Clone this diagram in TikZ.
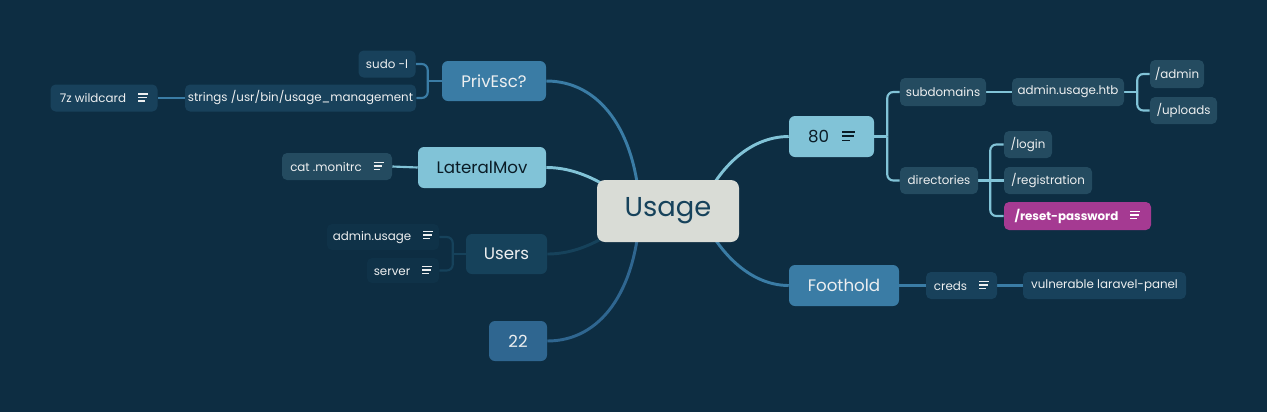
\documentclass[tikz,border=0pt]{standalone}
\usepackage{fontspec}
\setmainfont{Poppins}
\usetikzlibrary{backgrounds,calc}
\definecolor{bg}{HTML}{0D2D42}
\definecolor{cUsage}{HTML}{D9DCD6}
\definecolor{tUsage}{HTML}{16425B}
\definecolor{cA}{HTML}{3A7CA5}
\definecolor{cB}{HTML}{81C3D7}
\definecolor{cC}{HTML}{16425B}
\definecolor{cD}{HTML}{2F6690}
\definecolor{chA}{HTML}{18415B}
\definecolor{chB}{HTML}{244B60}
\definecolor{chC}{HTML}{0F3248}
\definecolor{cMag}{HTML}{A53A92}
\definecolor{tLight}{HTML}{EDEFF0}
\definecolor{tDark}{HTML}{0A1C26}
\newcommand\noteicon{\hspace{9pt}\raisebox{0.8pt}{\vbox{\hrule width 7.5pt height 1pt \vskip 1.6pt \hrule width 6.5pt height 1pt \vskip 1.6pt \hrule width 5pt height 1pt}}}
\newcommand\bignoteicon{\hspace{10pt}\raisebox{1pt}{\vbox{\hrule width 9.5pt height 1.2pt \vskip 2pt \hrule width 9pt height 1.2pt \vskip 2pt \hrule width 6pt height 1.2pt}}}
\begin{document}
\begin{tikzpicture}[x=0.75pt,y=-0.75pt,
  bx/.style 2 args={minimum width=#1*0.75pt, minimum height=#2*0.75pt},
  topic/.style={rounded corners=4.5pt, inner sep=0pt, font=\fontsize{12.5}{14}\selectfont, text=tLight},
  sub/.style={rounded corners=3.8pt, inner sep=0pt, font=\fontsize{8.9}{11}\selectfont, text=tLight},
  mainline/.style={line width=2.2pt},
  cl/.style={line width=1.6pt},
  rc/.style={cl, rounded corners=4.5pt}]
\useasboundingbox (0,0) rectangle (1267,412);

% central
\node[rounded corners=6pt, inner sep=0pt, fill=cUsage, text=tUsage, font=\fontsize{20.5}{24}\selectfont, bx={142}{62}] (usage) at (668,211) {Usage};
\coordinate (hubL) at (640,211);
\coordinate (hubR) at (700,211);

% left topics
\node[topic, fill=cA, bx={104}{40}] (privesc) at (494,81) {PrivEsc?};
\node[sub, fill=chA, bx={57}{27}] (sudo) at (387,64) {sudo -l};
\node[sub, fill=chA, bx={231}{27}] (strings) at (300.5,98) {strings /usr/bin/usage\_management};
\node[sub, fill=chA, bx={107}{27}] (wild) at (104,98) {7z wildcard\noteicon};

\node[topic, fill=cB, text=tDark, bx={128}{41}] (lateral) at (482,167.5) {LateralMov};
\node[sub, fill=chB, bx={110}{27}] (monit) at (337,166.5) {cat .monitrc\noteicon};

\node[topic, fill=cC, bx={81}{40}] (users) at (506.5,254) {Users};
\node[sub, fill=chC, bx={112}{26}] (adminu) at (383,237) {admin.usage\noteicon};
\node[sub, fill=chC, bx={72}{25}] (server) at (403,270.5) {server\noteicon};

\node[topic, fill=cD, bx={58}{40}] (p22) at (518,341) {22};

% right topics
\node[topic, fill=cB, text=tDark, bx={85}{41}] (p80) at (831.5,136.5) {80\bignoteicon};
\node[sub, fill=chB, bx={86}{28}] (subd) at (943,92) {subdomains};
\node[sub, fill=chB, bx={112}{28}] (ahtb) at (1068,92) {admin.usage.htb};
\node[sub, fill=chB, bx={54}{28}] (admin) at (1177,74) {/admin};
\node[sub, fill=chB, bx={67}{27}] (uploads) at (1183.5,110.5) {/uploads};
\node[sub, fill=chB, bx={78}{27}] (dirs) at (939,180.5) {directories};
\node[sub, fill=chB, bx={48}{27}] (login) at (1028,144.5) {/login};
\node[sub, fill=chB, bx={88}{27}] (reg) at (1048,180.5) {/registration};
\node[sub, fill=cMag, text=white, font=\fontsize{8.9}{11}\selectfont\bfseries, bx={147}{28}] (reset) at (1077.5,216) {/reset-password\noteicon};

\node[topic, fill=cA, bx={110}{41}] (foothold) at (844,285.5) {Foothold};
\node[sub, fill=chA, bx={71}{27}] (creds) at (961.5,285.5) {creds\noteicon};
\node[sub, fill=chA, bx={163}{27}] (vuln) at (1104.5,285.5) {vulnerable laravel-panel};

\begin{scope}[on background layer]
\fill[bg] (0,0) rectangle (1267,412);
% main curves
\draw[mainline, cA] (privesc.east) .. controls +(53,0) and +(-4,-81) .. (hubL);
\draw[mainline, cB] (lateral.east) .. controls +(33,0) and +(-30,-26) .. (hubL);
\draw[mainline, cC] (users.east) .. controls +(33,0) and +(-30,26) .. (hubL);
\draw[mainline, cD] (p22.east) .. controls +(53,0) and +(-4,81) .. (hubL);
\draw[mainline, cB] (p80.west) .. controls +(-40,0) and +(16,-41) .. (hubR);
\draw[mainline, cA] (foothold.west) .. controls +(-40,0) and +(16,39) .. (hubR);
% PrivEsc subtree
\draw[cl, cA] (privesc.west) -- ++(-14,0) coordinate (j1);
\draw[rc, cA] (j1) |- (sudo.east);
\draw[rc, cA] (j1) |- (strings.east);
\draw[cl, cA] (strings.west) -- (wild.east);
% LateralMov
\draw[cl, cB] (lateral.west) -- (monit.east);
% Users
\draw[cl, cC] (users.west) -- ++(-13,0) coordinate (j2);
\draw[rc, cC] (j2) |- (adminu.east);
\draw[rc, cC] (j2) |- (server.east);
% 80
\draw[cl, cB] (p80.east) -- ++(13,0) coordinate (j3);
\draw[rc, cB] (j3) |- (subd.west);
\draw[rc, cB] (j3) |- (dirs.west);
\draw[cl, cB] (subd.east) -- (ahtb.west);
\draw[cl, cB] (ahtb.east) -- ++(13,0) coordinate (j4);
\draw[rc, cB] (j4) |- (admin.west);
\draw[rc, cB] (j4) |- (uploads.west);
\draw[cl, cB] (dirs.east) -- ++(12,0) coordinate (j5);
\draw[rc, cB] (j5) |- (login.west);
\draw[cl, cB] (dirs.east) -- (reg.west);
\draw[rc, cB] (j5) |- (reset.west);
% Foothold
\draw[cl, cA] (foothold.east) -- (creds.west);
\draw[cl, cA] (creds.east) -- (vuln.west);
\end{scope}
\end{tikzpicture}
\end{document}
